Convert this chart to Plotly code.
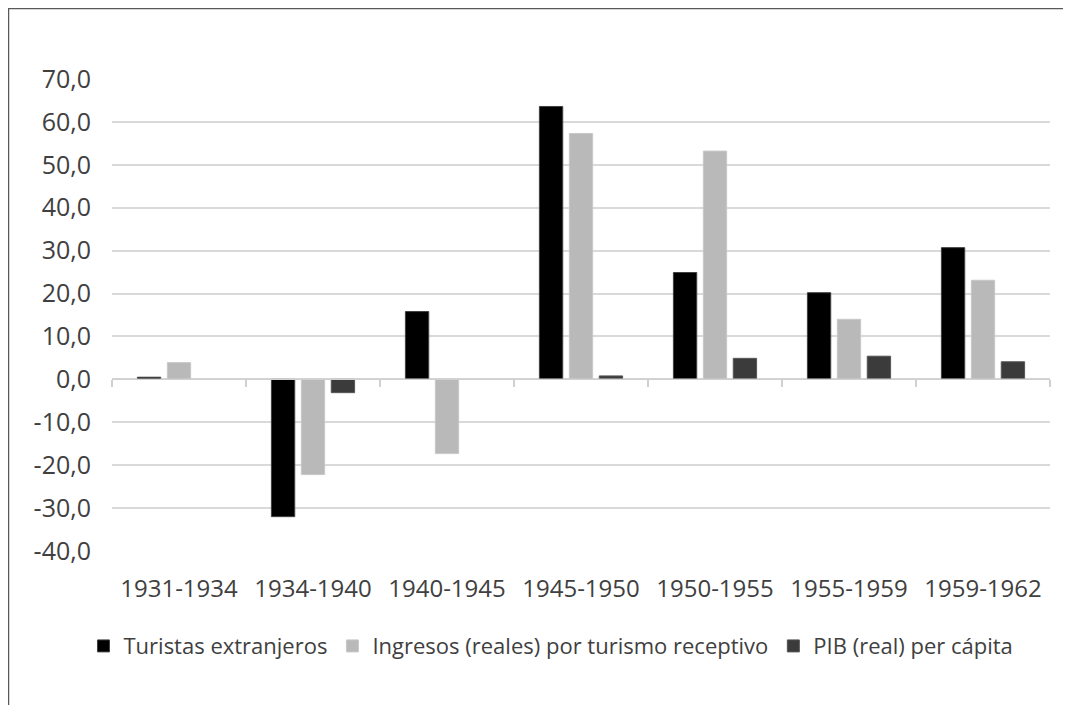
import plotly.graph_objects as go

periods = ["1931-1934", "1934-1940", "1940-1945", "1945-1950", "1950-1955", "1955-1959", "1959-1962"]
turistas = [0.5, -32.0, 15.8, 63.6, 24.9, 20.2, 30.7]
ingresos = [3.9, -22.2, -17.3, 57.3, 53.2, 14.0, 23.1]
pib = [None, -3.1, None, 0.8, 4.9, 5.4, 4.1]

ytick_vals = [-40, -30, -20, -10, 0, 10, 20, 30, 40, 50, 60, 70]
ytick_text = ["-40,0", "-30,0", "-20,0", "-10,0", "0,0", "10,0", "20,0",
              "30,0", "40,0", "50,0", "60,0", "70,0"]

font = "Open Sans, DejaVu Sans, sans-serif"
fig = go.Figure()
fig.add_bar(x=periods, y=turistas, name="Turistas extranjeros",
            marker=dict(color="#000000", line=dict(color="#404040", width=1)))
fig.add_bar(x=periods, y=ingresos, name="Ingresos (reales) por turismo receptivo",
            marker=dict(color="#b9b9b9", line=dict(color="#c8c8c8", width=1)))
fig.add_bar(x=periods, y=pib, name="PIB (real) per cápita",
            marker=dict(color="#3b3b3b", line=dict(color="#555555", width=1)))

# second x axis only to draw the category line with boundary ticks at y=0
n = len(periods)
fig.add_scatter(x=[-0.5, n - 0.5], y=[0, 0], xaxis="x2", mode="lines",
                line=dict(color="#d0d0d0", width=1.5), showlegend=False, hoverinfo="skip")

# the page body adds an 8px margin; size the figure so it doesn't overflow the window
fig.update_layout(
    width=1055, height=697,
    paper_bgcolor="white", plot_bgcolor="white",
    margin=dict(l=104, r=13, t=71, b=154),
    barmode="group", bargap=0.33, bargroupgap=0.22,
    font=dict(family=font, size=24, color="#404040"),
    xaxis=dict(type="category", showgrid=False, showline=False, ticks="",
               ticklabelstandoff=21, tickfont=dict(size=24, color="#404040")),
    xaxis2=dict(overlaying="x", anchor="free", position=40 / 110, range=[-0.5, n - 0.5],
                tickvals=[i - 0.5 for i in range(n + 1)], showticklabels=False,
                ticks="outside", ticklen=7, tickcolor="#d0d0d0", tickwidth=1.5,
                showgrid=False, zeroline=False, showline=False),
    yaxis=dict(range=[-40, 70], tickvals=ytick_vals, ticktext=ytick_text, showgrid=True,
               gridcolor="#d9d9d9", gridwidth=1.5, zeroline=False, showline=False,
               ticklabelstandoff=20, tickfont=dict(size=25, color="#404040")),
    legend=dict(orientation="h", x=0.468, xanchor="center", y=-0.157, yanchor="top",
                font=dict(size=22, color="#404040"), traceorder="normal",
                itemwidth=30, tracegroupgap=0),
    shapes=[dict(type="rect", xref="paper", yref="paper",
                 x0=-103.5 / 938, x1=1.2, y0=-0.5, y1=1 + 70.5 / 472,
                 line=dict(color="#595959", width=1.5), layer="below")],
)

fig.write_html("out.html")
